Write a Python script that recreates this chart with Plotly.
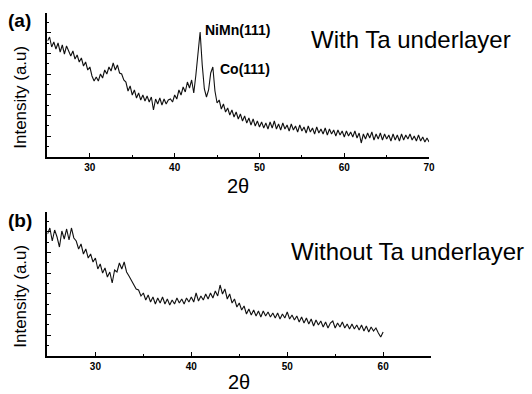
import numpy as np
import plotly.graph_objects as go

# ---------------- data ----------------
two_theta_a = np.round(np.arange(25.0, 70.001, 0.25), 2)
intensity_a = [
    116, 120, 110, 115,   # 25
    108, 114, 105, 112,   # 26
    103, 111, 106, 101,   # 27
    106, 98, 102, 95,     # 28
    99, 91, 95, 87,       # 29
    90, 81, 76, 80,       # 30
    76, 83, 79, 87,       # 31
    83, 90, 86, 94,       # 32
    87, 92, 84, 83,       # 33
    77, 75, 66, 71,       # 34
    62, 67, 59, 64,       # 35
    57, 62, 56, 61,       # 36
    55, 60, 47, 58,       # 37
    53, 59, 52, 58,       # 38
    53, 57, 58, 55,       # 39
    62, 58, 67, 62,       # 40
    70, 65, 75, 69,       # 41
    77, 64, 82, 108,      # 42
    125, 92, 68, 60,      # 43
    67, 84, 90, 66,       # 44
    54, 57, 48, 53,       # 45
    45, 49, 42, 47,       # 46
    40, 45, 38, 43,       # 47
    36, 41, 34, 39,       # 48
    32, 38, 31, 36,       # 49
    30, 35, 29, 34,       # 50
    28, 35, 29, 36,       # 51
    28, 33, 27, 34,       # 52
    28, 32, 26, 33,       # 53
    27, 31, 25, 32,       # 54
    26, 30, 24, 31,       # 55
    25, 29, 23, 30,       # 56
    24, 28, 23, 29,       # 57
    22, 28, 23, 27,       # 58
    21, 27, 22, 26,       # 59
    20, 26, 21, 25,       # 60
    20, 26, 19, 24,       # 61
    14, 23, 18, 24,       # 62
    19, 25, 17, 23,       # 63
    18, 24, 17, 23,       # 64
    18, 22, 16, 23,       # 65
    17, 22, 16, 23,       # 66
    17, 22, 18, 23,       # 67
    17, 21, 16, 22,       # 68
    16, 20, 15, 19,       # 69
    15,                   # 70
]

two_theta_b = np.round(np.arange(25.0, 60.001, 0.25), 2)
intensity_b = [
    122, 128, 115, 126,   # 25
    119, 109, 125, 117,   # 26
    127, 116, 128, 118,   # 27
    115, 107, 112, 102,   # 28
    107, 98, 102, 94,     # 29
    98, 87, 92, 83,       # 30
    88, 79, 84, 73,       # 31
    86, 84, 93, 87,       # 32
    94, 84, 80, 76,       # 33
    72, 67, 66, 60,       # 34
    63, 56, 61, 54,       # 35
    59, 52, 58, 53,       # 36
    59, 52, 57, 51,       # 37
    56, 52, 58, 53,       # 38
    57, 52, 58, 54,       # 39
    59, 54, 63, 55,       # 40
    60, 56, 62, 57,       # 41
    63, 58, 65, 60,       # 42
    71, 62, 67, 57,       # 43
    62, 53, 57, 49,       # 44
    53, 46, 50, 42,       # 45
    47, 41, 46, 40,       # 46
    45, 39, 45, 40,       # 47
    44, 39, 43, 38,       # 48
    43, 37, 42, 38,       # 49
    44, 37, 41, 36,       # 50
    40, 34, 39, 33,       # 51
    38, 32, 37, 30,       # 52
    36, 31, 35, 29,       # 53
    34, 28, 33, 35,       # 54
    28, 33, 29, 34,       # 55
    28, 32, 27, 32,       # 56
    27, 31, 26, 31,       # 57
    25, 30, 24, 29,       # 58
    25, 28, 23, 19,       # 59
    24,                   # 60
]

x_ticks_a = [30, 40, 50, 60, 70]
x_ticks_b = [30, 40, 50, 60]

# ---------------- figure ----------------
W, H = 532, 394
FONT = "Liberation Sans, Arial, Helvetica, sans-serif"


def px(x):
    return x / W


def py(y):
    return 1 - y / H


fig = go.Figure()
fig.add_trace(go.Scatter(x=two_theta_a, y=intensity_a, mode="lines",
                         line=dict(color="#111111", width=1.1),
                         xaxis="x", yaxis="y", showlegend=False))
fig.add_trace(go.Scatter(x=two_theta_b, y=intensity_b, mode="lines",
                         line=dict(color="#111111", width=1.1),
                         xaxis="x2", yaxis="y2", showlegend=False))

xcommon = dict(showline=True, linecolor="black", linewidth=1.6, mirror=False,
               showgrid=False, zeroline=False, ticks="inside", ticklen=4,
               tickwidth=1, tickcolor="black",
               tickfont=dict(family=FONT, size=10, color="black", weight="bold"),
               minor=dict(ticks="inside", ticklen=2, dtick=5, tick0=0,
                          tickcolor="black", showgrid=False),
               fixedrange=True)
ycommon = dict(showline=True, linecolor="black", linewidth=1.6, showgrid=False,
               zeroline=False, ticks="inside", ticklen=4, tickwidth=1,
               tickcolor="black", showticklabels=False, tickmode="linear",
               tick0=0, dtick=20.7,
               minor=dict(ticks="inside", ticklen=2, dtick=10.35, tick0=0,
                          tickcolor="black", showgrid=False),
               fixedrange=True)

fig.update_layout(
    width=W, height=H,
    margin=dict(l=0, r=0, t=0, b=0),
    paper_bgcolor="white", plot_bgcolor="white",
    xaxis=dict(domain=[px(48), px(434)], range=[25, 70], anchor="y",
               tickvals=x_ticks_a, **xcommon),
    yaxis=dict(domain=[py(157), py(13)], range=[0, 144], anchor="x", **ycommon),
    xaxis2=dict(domain=[px(48), px(436)], range=[25, 65], anchor="y2",
                tickvals=x_ticks_b, **xcommon),
    yaxis2=dict(domain=[py(356), py(212)], range=[0, 144], anchor="x2", **ycommon),
)


def note(text, x, y, size, bold=False, angle=0):
    fig.add_annotation(text=text, x=px(x), y=py(y), xref="paper", yref="paper",
                       xanchor="center", yanchor="middle", showarrow=False,
                       textangle=angle,
                       font=dict(family=FONT, size=size, color="black",
                                 weight="bold" if bold else "normal"))


note("(a)", 20, 20, 19, bold=True)
note("Intensity (a.u)", 20, 97, 17, angle=-90)
note("NiMn(111)", 240, 30, 14, bold=True)
note("Co(111)", 248, 69, 14, bold=True)
note("With Ta underlayer", 416, 39, 24)
note("2θ", 241, 186, 20)

note("(b)", 20, 221, 19, bold=True)
note("Intensity (a.u)", 20, 296, 17, angle=-90)
note("Without Ta underlayer", 412, 251, 24)
note("2θ", 242, 382, 20)

fig.write_html("out.html")
